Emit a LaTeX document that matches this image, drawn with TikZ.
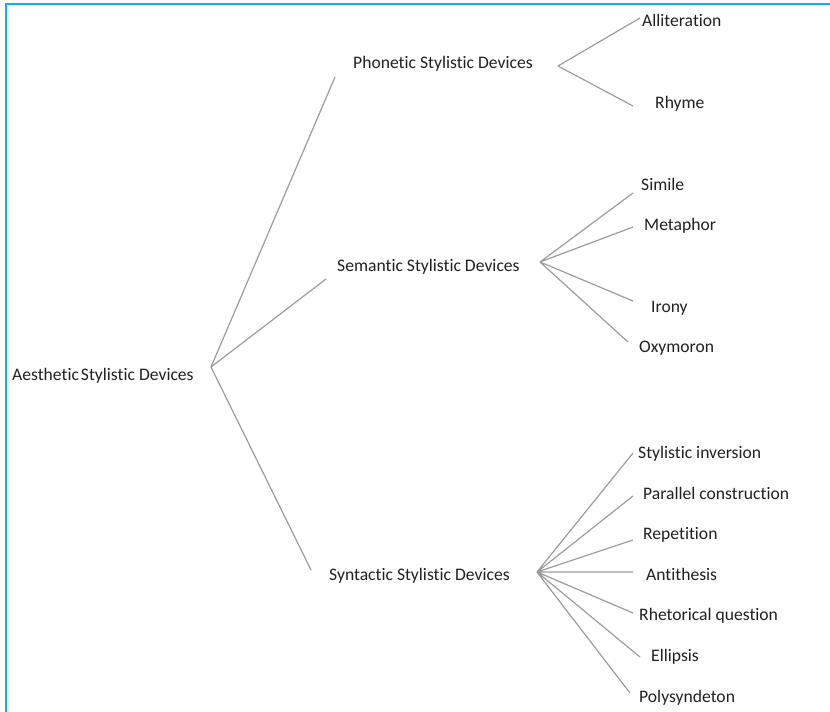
\documentclass[tikz,border=0pt]{standalone}
\usepackage{xcolor}
\usepackage{fontspec}
\setmainfont{Carlito}[Ligatures=NoCommon]
\definecolor{framebl}{HTML}{12AEEA}
\definecolor{linegr}{HTML}{9C9C9C}
\definecolor{textgr}{HTML}{202020}

\begin{document}
\begin{tikzpicture}[
  x=1pt, y=-1pt,
  every node/.style={inner sep=0pt, anchor=base west, text=textgr,
    font=\fontsize{17.6}{21}\selectfont},
  link/.style={draw=linegr, line width=1.2pt}]
\useasboundingbox (0,0) rectangle (830,712);
\draw[framebl, line width=2.6pt] (830,4) -- (6,4) -- (6,712);

% root and first level
\node (f) at (12,380) {Aesthetic\hspace{-2pt} Stylistic Devices};
\node (1t) at (353,68) {Phonetic Stylistic Devices};
\node (1m) at (337,271) {Semantic Stylistic Devices};
\node (1b) at (329,580) {Syntactic Stylistic Devices};

% leaves
\node (2t1) at (642,26) {Alliteration};
\node (2t2) at (655,108) {Rhyme};
\node (2m1) at (641,190) {Simile};
\node (2m2) at (644,230) {Metaphor};
\node (2m3) at (651,312) {Irony};
\node (2m4) at (639,352) {Oxymoron};
\node (2b1) at (638,458) {Stylistic inversion};
\node (2b2) at (643,499) {Parallel construction};
\node (2b3) at (643,539) {Repetition};
\node (2b4) at (646,580) {Antithesis};
\node (2b5) at (639,620) {Rhetorical question};
\node (2b6) at (651,661) {Ellipsis};
\node (2b7) at (639,702) {Polysyndeton};

% branch points
\coordinate (f-r) at (211,367);
\coordinate (1t-l) at (335,77);
\coordinate (1m-l) at (326,279);
\coordinate (1b-l) at (311,570);
\coordinate (1t-r) at (558,66);
\coordinate (1m-r) at (540,262);
\coordinate (1b-r) at (537,572);
\coordinate (2t1-l) at (640,18);
\coordinate (2t2-l) at (633,106);
\coordinate (2m1-l) at (633,193);
\coordinate (2m2-l) at (633,227);
\coordinate (2m3-l) at (633,301);
\coordinate (2m4-l) at (628,342);
\coordinate (2b1-l) at (633,453);
\coordinate (2b2-l) at (633,496);
\coordinate (2b3-l) at (633,540);
\coordinate (2b4-l) at (633,572);
\coordinate (2b5-l) at (633,613);
\coordinate (2b6-l) at (640,657);
\coordinate (2b7-l) at (630,693);

\path[link] (f-r) -- (1t-l)  (f-r) -- (1m-l)  (f-r) -- (1b-l);
\path[link] (1t-r) -- (2t1-l)  (1t-r) -- (2t2-l);
\path[link] (1m-r) -- (2m1-l)  (1m-r) -- (2m2-l)
  (1m-r) -- (2m3-l)  (1m-r) -- (2m4-l);
\path[link] (1b-r) -- (2b1-l)  (1b-r) -- (2b2-l)  (1b-r) -- (2b3-l)
  (1b-r) -- (2b4-l)  (1b-r) -- (2b5-l)  (1b-r) -- (2b6-l)
  (1b-r) -- (2b7-l);
\end{tikzpicture}
\end{document}
